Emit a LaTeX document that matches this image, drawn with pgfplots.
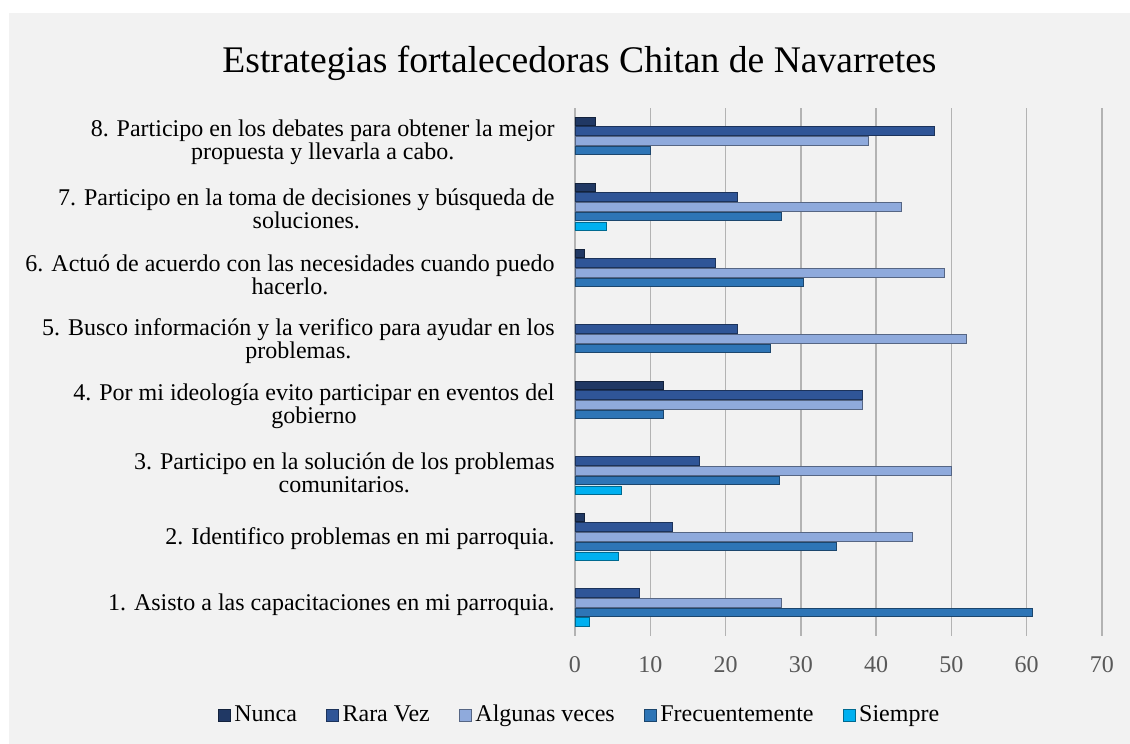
\documentclass[border=0pt]{standalone}
\usepackage{fontspec}
\setmainfont{Liberation Serif}
\usepackage{pgfplots}
\pgfplotsset{compat=1.18}
\definecolor{bg}{HTML}{F2F2F2}
\definecolor{cN}{HTML}{203864}
\definecolor{cR}{HTML}{2F5597}
\definecolor{cA}{HTML}{8FAADC}
\definecolor{cF}{HTML}{2E75B6}
\definecolor{cS}{HTML}{00B0F0}
\definecolor{gridc}{HTML}{B3B3B3}
\definecolor{tickc}{HTML}{595959}
\begin{document}
\begin{tikzpicture}
\fill[white] (0,0) rectangle (565pt,372pt);
\fill[bg] (4.5pt,0) rectangle (565pt,365.5pt);
\useasboundingbox (0,0) rectangle (565pt,372pt);
\begin{axis}[
  at={(287.5pt,54.15pt)}, anchor=south west,
  scale only axis, width=263.5pt, height=264pt,
  xbar, bar width=4.3pt,
  xmin=0, xmax=70, ymin=0.5, ymax=8.5,
  xtick={0,10,...,70},
  ytick={1,...,8},
  yticklabels={
    {1. Asisto a las capacitaciones en mi parroquia.},
    {2. Identifico problemas en mi parroquia.},
    {3. Participo en la solución de los problemas\\comunitarios.},
    {4. Por mi ideología evito participar en eventos del\\gobierno},
    {5. Busco información y la verifico para ayudar en los\\problemas.},
    {6. Actuó de acuerdo con las necesidades cuando puedo\\hacerlo.},
    {7. Participo en la toma de decisiones y búsqueda de\\soluciones.},
    {8. Participo en los debates para obtener la mejor\\propuesta y llevarla a cabo.}},
  yticklabel style={anchor=east, align=center, inner sep=0pt, xshift=-10pt, yshift=-1pt,
    font=\fontsize{12}{11.5}\selectfont},
  xticklabel style={font=\fontsize{12}{14}\selectfont, text=tickc, inner sep=0pt, yshift=-10pt},
  /pgf/number format/assume math mode=true,
  axis line style={draw=none},
  tick style={draw=none},
  major tick length=0pt,
  xmajorgrids,
  grid style={gridc, line width=0.75pt},
  title={Estrategias fortalecedoras Chitan de Navarretes},
  title style={at={(axis description cs:0.0085,1.0903)}, anchor=center, yshift=-7.5pt,
    font=\fontsize{18.8}{21}\selectfont, inner sep=0pt},
  legend columns=5,
  legend style={at={(axis description cs:0.0104,-0.150)}, anchor=center,
    draw=none, fill=none, font=\fontsize{12}{14}\selectfont,
    /tikz/every even column/.append style={column sep=12.5pt},
    inner sep=0pt},
  legend image code/.code={\fill[#1] (0pt,-3pt) rectangle (6pt,3pt);},
]
\addplot[bar shift=9.7pt, fill=cN, draw=cN!60!black, line width=0.3pt]
  coordinates {(2.7,8) (2.7,7) (1.2,6) (11.7,4) (1.2,2)};
\addlegendentry{Nunca}
\addplot[bar shift=4.85pt, fill=cR, draw=cR!60!black, line width=0.3pt]
  coordinates {(47.7,8) (21.6,7) (18.7,6) (21.6,5) (38.1,4) (16.5,3) (12.9,2) (8.5,1)};
\addlegendentry{Rara Vez}
\addplot[bar shift=0pt, fill=cA, draw=cA!60!black, line width=0.3pt]
  coordinates {(39,8) (43.4,7) (49.1,6) (52,5) (38.1,4) (50,3) (44.8,2) (27.4,1)};
\addlegendentry{Algunas veces}
\addplot[bar shift=-4.85pt, fill=cF, draw=cF!60!black, line width=0.3pt]
  coordinates {(10,8) (27.4,7) (30.3,6) (26,5) (11.7,4) (27.2,3) (34.7,2) (60.8,1)};
\addlegendentry{Frecuentemente}
\addplot[bar shift=-9.7pt, fill=cS, draw=cS!60!black, line width=0.3pt]
  coordinates {(4.2,7) (6.1,3) (5.7,2) (1.9,1)};
\addlegendentry{Siempre}
\end{axis}
\end{tikzpicture}
\end{document}
